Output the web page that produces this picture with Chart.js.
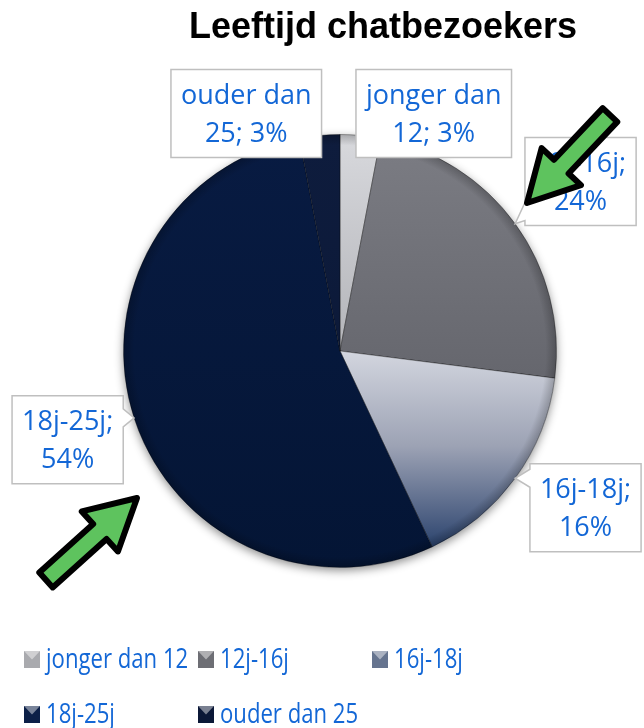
<!DOCTYPE html>
<html>
<head>
<meta charset="utf-8">
<script src="https://cdn.jsdelivr.net/npm/chart.js@4.4.1/dist/chart.umd.min.js"></script>
<style>
  body { margin: 0; background: #fff; }
</style>
</head>
<body>
<canvas id="ageChart" width="644" height="728"></canvas>
<script>
const chartTitle = 'Leeftijd chatbezoekers';
const ageGroups = ['jonger dan 12', '12j-16j', '16j-18j', '18j-25j', 'ouder dan 25'];
const visitorShare = [3, 24, 16, 54, 3];

// slice shading, stops run top -> bottom of the pie
const sliceStops = [
    [[0, '#d8d9dd'], [0.5, '#b3b4b9']],
    [[0, '#7c7d84'], [0.55, '#66676e']],
    [[0.5, '#d3d6df'], [0.72, '#9ca2b4'], [0.88, '#4f6184'], [0.97, '#213b67']],
    [[0, '#081b42'], [1, '#041535']],
    [[0, '#0e1c3d'], [1, '#0a1735']]
];
const legendColors = ['#a9aaae', '#6d6e74', '#66748f', '#0c2048', '#0b1837'];

// callout box centres, in pie radii from the pie centre
const calloutSpots = [[0.433, -1.097], [1.111, -0.783], [1.134, 0.724], [-1.258, 0.41], [-0.433, -1.097]];

const blue = '#1367d6';
const labelFont = '27px "Open Sans"';

function sliceFill(context) {
    const i = context.dataIndex;
    const chart = context.chart;
    const area = chart.chartArea;
    if (!area) return legendColors[i];
    const g = chart.ctx.createLinearGradient(0, area.top, 0, area.bottom);
    sliceStops[i].forEach(s => g.addColorStop(s[0], s[1]));
    return g;
}

function wrapWords(ctx, text, maxW) {
    const words = text.split(' ');
    const lines = [];
    let line = words[0];
    for (let k = 1; k < words.length; k++) {
        const test = line + ' ' + words[k];
        if (ctx.measureText(test).width > maxW) {
            lines.push(line);
            line = words[k];
        } else {
            line = test;
        }
    }
    lines.push(line);
    return lines;
}

function drawCallout(ctx, l, t, r, b, tip) {
    ctx.beginPath();
    ctx.moveTo(l, t);
    ctx.lineTo(r, t);
    if (tip.x > r) {
        const cy = Math.min(Math.max(tip.y, t + 14), b - 14);
        ctx.lineTo(r, cy - 9);
        ctx.lineTo(tip.x, tip.y);
        ctx.lineTo(r, cy + 9);
    }
    ctx.lineTo(r, b);
    ctx.lineTo(l, b);
    if (tip.x < l) {
        const cy = Math.min(Math.max(tip.y, t + 14), b - 14);
        ctx.lineTo(l, cy + 9);
        ctx.lineTo(tip.x, tip.y);
        ctx.lineTo(l, cy - 9);
    }
    ctx.closePath();
    ctx.fillStyle = '#ffffff';
    ctx.fill();
    ctx.lineWidth = 1.5;
    ctx.strokeStyle = '#bfbfbf';
    ctx.stroke();
}

// hand drawn green arrow, tail -> tip
function drawArrow(ctx, x1, y1, x2, y2) {
    const len = Math.hypot(x2 - x1, y2 - y1);
    const ang = Math.atan2(y2 - y1, x2 - x1);
    const head = 50, shaft = 10, wing = 27;
    ctx.save();
    ctx.translate(x1, y1);
    ctx.rotate(ang);
    ctx.beginPath();
    ctx.moveTo(0, -shaft);
    ctx.lineTo(len - head, -shaft);
    ctx.lineTo(len - head, -wing);
    ctx.lineTo(len, 0);
    ctx.lineTo(len - head, wing);
    ctx.lineTo(len - head, shaft);
    ctx.lineTo(0, shaft);
    ctx.closePath();
    ctx.fillStyle = '#5ec35e';
    ctx.fill();
    ctx.lineJoin = 'round';
    ctx.lineWidth = 6;
    ctx.strokeStyle = '#000000';
    ctx.stroke();
    ctx.restore();
}

const decorPlugin = {
    id: 'decor',
    beforeDatasetsDraw(chart) {
        const arc = chart.getDatasetMeta(0).data[0];
        const ctx = chart.ctx;
        ctx.save();
        ctx.shadowColor = 'rgba(0,0,0,0.45)';
        ctx.shadowBlur = 10;
        ctx.shadowOffsetY = 3;
        ctx.beginPath();
        ctx.arc(arc.x, arc.y, arc.outerRadius, 0, Math.PI * 2);
        ctx.fillStyle = '#ffffff';
        ctx.fill();
        ctx.restore();
    },
    afterDatasetsDraw(chart) {
        const ctx = chart.ctx;
        const arcs = chart.getDatasetMeta(0).data;
        const cx = arcs[0].x, cy = arcs[0].y, rad = arcs[0].outerRadius;

        // darker rim for the bevel look
        ctx.save();
        const rim = ctx.createRadialGradient(cx, cy, rad * 0.95, cx, cy, rad);
        rim.addColorStop(0, 'rgba(0,0,0,0)');
        rim.addColorStop(1, 'rgba(0,0,0,0.22)');
        ctx.beginPath();
        ctx.arc(cx, cy, rad, 0, Math.PI * 2);
        ctx.fillStyle = rim;
        ctx.fill();
        ctx.restore();

        // callout labels
        const total = visitorShare.reduce((a, b) => a + b, 0);
        ctx.save();
        ctx.font = labelFont;
        arcs.forEach((a, i) => {
            const mid = (a.startAngle + a.endAngle) / 2;
            const tip = { x: cx + rad * Math.cos(mid), y: cy + rad * Math.sin(mid) };
            const pct = Math.round(visitorShare[i] / total * 100) + '%';
            const lines = wrapWords(ctx, ageGroups[i] + '; ' + pct, 142);
            const w = Math.max(...lines.map(s => ctx.measureText(s).width)) + 20;
            const h = lines.length * 38 + 12;
            const bx = cx + calloutSpots[i][0] * rad;
            const by = cy + calloutSpots[i][1] * rad;
            drawCallout(ctx, bx - w / 2, by - h / 2, bx + w / 2, by + h / 2, tip);
            ctx.fillStyle = blue;
            ctx.textAlign = 'center';
            ctx.textBaseline = 'middle';
            lines.forEach((s, k) => {
                ctx.fillText(s, bx, by + 1.5 + (k - (lines.length - 1) / 2) * 38);
            });
        });
        ctx.restore();
    },
    afterDraw(chart) {
        const ctx = chart.ctx;

        drawArrow(ctx, 610, 115, 527, 203);
        drawArrow(ctx, 46, 580, 137, 498);

        // title
        ctx.save();
        ctx.font = 'bold 36px "Liberation Sans", Arial, sans-serif';
        ctx.fillStyle = '#000000';
        ctx.textAlign = 'center';
        ctx.textBaseline = 'alphabetic';
        ctx.fillText(chartTitle, 383, 38);
        ctx.restore();

        // legend, 3 columns
        ctx.save();
        ctx.font = '27px "Open Sans"';
        ageGroups.forEach((name, i) => {
            const col = i % 3, row = Math.floor(i / 3);
            const x = 24 + col * 174;
            const y = 651 + row * 55;
            const g = ctx.createLinearGradient(0, y, 0, y + 17);
            g.addColorStop(0, '#d9dadd');
            g.addColorStop(1, legendColors[i]);
            ctx.fillStyle = legendColors[i];
            ctx.fillRect(x, y, 16, 17);
            ctx.beginPath();
            ctx.moveTo(x, y);
            ctx.lineTo(x + 16, y);
            ctx.lineTo(x + 8, y + 8.5);
            ctx.closePath();
            ctx.fillStyle = 'rgba(255,255,255,0.45)';
            ctx.fill();
            ctx.save();
            ctx.translate(x + 22, y + 17);
            ctx.scale(0.82, 1);
            ctx.fillStyle = blue;
            ctx.textBaseline = 'alphabetic';
            ctx.fillText(name, 0, 0);
            ctx.restore();
        });
        ctx.restore();
    }
};

new Chart(document.getElementById('ageChart'), {
    type: 'pie',
    data: {
        labels: ageGroups,
        datasets: [{
            data: visitorShare,
            backgroundColor: sliceFill,
            borderColor: 'rgba(0,0,0,0.35)',
            borderWidth: 1
        }]
    },
    options: {
        responsive: false,
        animation: false,
        layout: {
            padding: { left: 123, right: 87, top: 134, bottom: 160 }
        },
        plugins: {
            legend: { display: false },
            title: { display: false },
            tooltip: { enabled: false }
        }
    },
    plugins: [decorPlugin]
});
</script>
</body>
</html>
